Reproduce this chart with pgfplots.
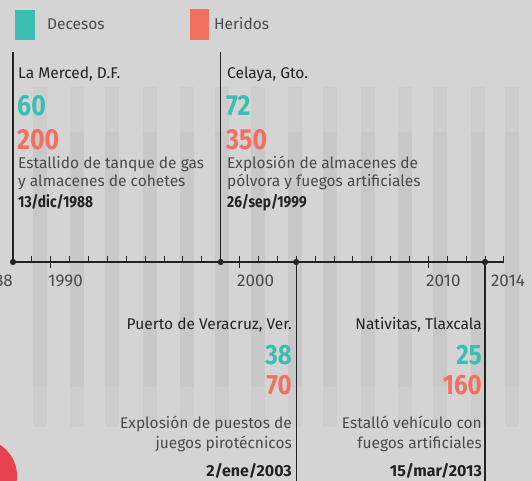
\documentclass[border=0pt]{standalone}
\usepackage{pgfplots}
\pgfplotsset{compat=1.18}
\usepackage{fontspec}
\setmainfont{Fira Sans}
\newfontfamily\cond{Fira Sans}[FakeStretch=0.86]
\definecolor{bg}{HTML}{D4D4D4}
\definecolor{dec}{HTML}{3CBDB2}
\definecolor{her}{HTML}{F2705F}
\definecolor{ink}{HTML}{222222}
\definecolor{txt}{HTML}{4A4A4A}
\definecolor{blob}{HTML}{E8414F}
\newcommand{\fs}[1]{\fontsize{#1bp}{#1bp}\selectfont}
\begin{document}
\begin{tikzpicture}
\useasboundingbox (0,0) rectangle (532bp,481bp);
\fill[bg] (0,0) rectangle (532bp,481bp);
\begin{scope}
\clip (0,0) rectangle (532bp,481bp);
\fill[blob] (-20bp,5bp) circle[radius=37bp];
\begin{axis}[at={(0,0)},anchor=south west,scale only axis,width=532bp,height=481bp,
  xmin=1987.3114,xmax=2015.4894,ymin=-219,ymax=262,hide axis,clip=false]
% decorative background stripes
\addplot[draw=black,draw opacity=0.03,line width=14bp,unbounded coords=jump,no marks] coordinates {
 (1989.43,175)(1989.43,-165)(1989.43,nan)
 (1991.39,175)(1991.39,-165)(1991.39,nan)
 (1993.24,175)(1993.24,-165)(1993.24,nan)
 (1995.26,175)(1995.26,-165)(1995.26,nan)
 (1997.22,175)(1997.22,-165)(1997.22,nan)
 (1999.07,175)(1999.07,-165)(1999.07,nan)
 (2000.98,175)(2000.98,-165)(2000.98,nan)
 (2002.94,175)(2002.94,-165)(2002.94,nan)
 (2004.79,175)(2004.79,-165)(2004.79,nan)
 (2006.80,175)(2006.80,-165)(2006.80,nan)
 (2008.76,175)(2008.76,-165)(2008.76,nan)
 (2010.62,175)(2010.62,-165)(2010.62,nan)
 (2012.63,175)(2012.63,-165)(2012.63,nan)
 (2014.43,175)(2014.43,-165)
};
\addplot[draw=black,draw opacity=0.025,line width=14bp,unbounded coords=jump,no marks] coordinates {
 (1989.43,130)(1989.43,-125)(1989.43,nan)
 (1991.39,130)(1991.39,-125)(1991.39,nan)
 (1993.24,130)(1993.24,-125)(1993.24,nan)
 (1995.26,130)(1995.26,-125)(1995.26,nan)
 (1997.22,130)(1997.22,-125)(1997.22,nan)
 (1999.07,130)(1999.07,-125)(1999.07,nan)
 (2000.98,130)(2000.98,-125)(2000.98,nan)
 (2002.94,130)(2002.94,-125)(2002.94,nan)
 (2004.79,130)(2004.79,-125)(2004.79,nan)
 (2006.80,130)(2006.80,-125)(2006.80,nan)
 (2008.76,130)(2008.76,-125)(2008.76,nan)
 (2010.62,130)(2010.62,-125)(2010.62,nan)
 (2012.63,130)(2012.63,-125)(2012.63,nan)
 (2014.43,130)(2014.43,-125)
};
% event lines
\addplot[ink,line width=1.3bp,unbounded coords=jump,no marks] coordinates {
 (1988,0)(1988,210)(1988,nan)
 (1999,0)(1999,210)(1999,nan)
 (2003,0)(2003,-219)(2003,nan)
 (2013,0)(2013,-219)
};
% timeline
\addplot[ink,line width=2.4bp,no marks] coordinates {(1988,0)(2014,0)};
\addplot[ycomb,ink,line width=0.9bp,no marks] coordinates {
 (1989,6)(1990,6)(1991,6)(1992,6)(1993,6)(1994,6)(1995,6)(1996,6)(1997,6)
 (1998,6)(1999,6)(2000,6)(2001,6)(2002,6)(2003,6)(2004,6)(2005,6)(2006,6)
 (2007,6)(2008,6)(2009,6)(2010,6)(2011,6)(2012,6)(2013,6)(2014,6)};
\addplot[ycomb,ink,line width=0.9bp,no marks] coordinates {(1990,-6)(2000,-6)(2010,-6)};
\addplot[only marks,mark=*,mark size=2.8bp,ink] coordinates {(1988,0)(1999,0)(2003,0)(2013,0)};
\end{axis}
\end{scope}
% legend
\fill[dec] (15bp,441bp) rectangle (35bp,471bp);
\fill[her] (190bp,441bp) rectangle (209bp,472bp);
\node[anchor=base west,inner sep=0,text=txt,font=\fs{15.5}] at (47bp,451bp) {Decesos};
\node[anchor=base west,inner sep=0,text=txt,font=\fs{15.5}] at (214bp,451bp) {Heridos};
% tick labels
\begin{scope}[every node/.style={inner sep=0,text=txt,font=\fs{17}}]
\node[anchor=base east] at (13bp,194bp) {1988};
\node[anchor=base west] at (48bp,194bp) {1990};
\node[anchor=base west] at (237bp,194bp) {2000};
\node[anchor=base west] at (426bp,194bp) {2010};
\node[anchor=base] at (508bp,194bp) {2014};
\end{scope}
% top events
\begin{scope}[every node/.style={inner sep=0,anchor=base west}]
\node[text=ink,font=\fs{15.5}] at (18bp,402bp) {La Merced, D.F.};
\node[text=dec,font=\fs{29}\cond\bfseries] at (17bp,365bp) {60};
\node[text=her,font=\fs{29}\cond\bfseries] at (17bp,331bp) {200};
\node[text=txt,font=\fs{15.5}] at (18bp,312bp) {Estallido de tanque de gas};
\node[text=txt,font=\fs{15.5}] at (18bp,294bp) {y almacenes de cohetes};
\node[text=ink,font=\fs{16}\cond\bfseries] at (18bp,273bp) {13/dic/1988};
\node[text=ink,font=\fs{15.5}] at (227bp,402bp) {Celaya, Gto.};
\node[text=dec,font=\fs{29}\cond\bfseries] at (226bp,365bp) {72};
\node[text=her,font=\fs{29}\cond\bfseries] at (226bp,331bp) {350};
\node[text=txt,font=\fs{15.5}] at (227bp,312bp) {Explosión de almacenes de};
\node[text=txt,font=\fs{15.5}] at (227bp,294bp) {pólvora y fuegos artificiales};
\node[text=ink,font=\fs{16}\cond\bfseries] at (227bp,273bp) {26/sep/1999};
\end{scope}
% bottom events
\begin{scope}[every node/.style={inner sep=0,anchor=base east}]
\node[text=ink,font=\fs{15.5}] at (292bp,151bp) {Puerto de Veracruz, Ver.};
\node[text=dec,font=\fs{28}\cond\bfseries] at (292bp,116bp) {38};
\node[text=her,font=\fs{28}\cond\bfseries] at (292bp,86bp) {70};
\node[text=txt,font=\fs{15.5}] at (292bp,52bp) {Explosión de puestos de};
\node[text=txt,font=\fs{15.5}] at (292bp,33bp) {juegos pirotécnicos};
\node[text=ink,font=\fs{16}\bfseries] at (292bp,5bp) {2/ene/2003};
\node[text=ink,font=\fs{15.5}] at (482bp,151bp) {Nativitas, Tlaxcala};
\node[text=dec,font=\fs{28}\cond\bfseries] at (482bp,116bp) {25};
\node[text=her,font=\fs{28}\cond\bfseries] at (482bp,86bp) {160};
\node[text=txt,font=\fs{15.5}] at (482bp,52bp) {Estalló vehículo con};
\node[text=txt,font=\fs{15.5}] at (482bp,33bp) {fuegos artificiales};
\node[text=ink,font=\fs{16}\bfseries] at (482bp,5bp) {15/mar/2013};
\end{scope}
\end{tikzpicture}
\end{document}
